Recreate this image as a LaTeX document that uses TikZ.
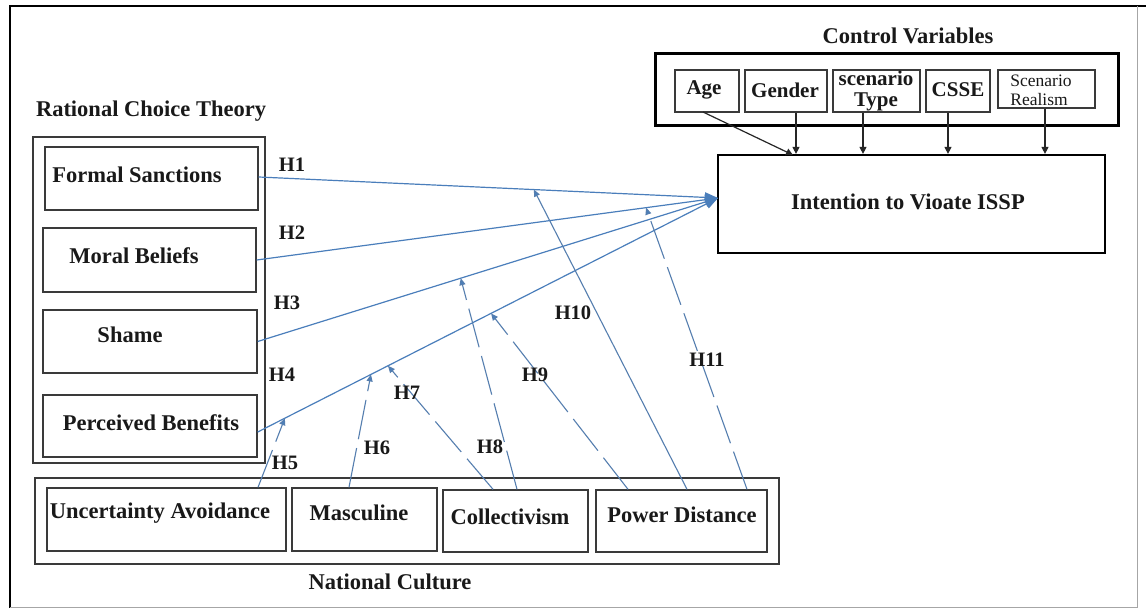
\documentclass[tikz,border=0pt]{standalone}
\usepackage{fontspec}
\setmainfont{Liberation Serif}
\usetikzlibrary{arrows.meta,calc}
\definecolor{linkblue}{HTML}{4A7EBB}
\definecolor{boxgray}{HTML}{3A3A3A}
\begin{document}
\begin{tikzpicture}[x=1pt,y=-1pt,
  box/.style={draw=boxgray,line width=1.4pt,inner sep=0pt},
  heavybox/.style={draw=black,line width=2.2pt,inner sep=0pt},
  txt/.style={font=\fontsize{22.5}{24}\selectfont\bfseries,inner sep=0pt,text=black!90},
  ctxt/.style={font=\fontsize{21}{21}\selectfont\bfseries,inner sep=0pt,align=center,text=black!90},
  hlbl/.style={font=\fontsize{20.5}{22}\selectfont\bfseries,inner sep=0pt,text=black!90},
  main/.style={draw=linkblue,line width=1.2pt,-{Triangle[length=13pt,width=10pt]}},
  moder/.style={draw=linkblue!80!gray,line width=1.1pt,-{Triangle[length=7pt,width=6pt,fill=linkblue]}},
  modash/.style={moder,dash pattern=on 40pt off 9pt},
  ctrl/.style={draw=black!85,line width=1.2pt,-{Triangle[length=7pt,width=7pt]}}
]
\useasboundingbox (0,0) rectangle (1146,609);
\fill[white] (0,0) rectangle (1146,609);

% outer frame
\draw[black,line width=2.6pt] (1146,6) -- (10,6) -- (10,608);
\draw[gray!70,line width=1pt] (10,607) -- (1137,607) -- (1137,6);

% Rational Choice Theory group
\node[txt] (rctT) at (151,111) {Rational Choice Theory};
\node[box,minimum width=232,minimum height=326] (rct) at (149,300) {};
\node[box,minimum width=213,minimum height=63] (fs) at (151.5,178.5) {};
\node[box,minimum width=213,minimum height=64] (mb) at (149.5,260) {};
\node[box,minimum width=214,minimum height=63] (sh) at (150,341.5) {};
\node[box,minimum width=214,minimum height=62] (pb) at (150,426) {};
\node[txt] (fsT) at (137,175) {Formal Sanctions};
\node[txt] (mbT) at (134,256) {Moral Beliefs};
\node[txt] (shT) at (130,335) {Shame};
\node[txt] (pbT) at (151,423) {Perceived Benefits};

% National Culture group
\node[box,minimum width=744,minimum height=86] (nc) at (407,521) {};
\node[box,minimum width=239,minimum height=63] (ua) at (166.5,519.5) {};
\node[box,minimum width=145,minimum height=63] (ma) at (364.5,519.5) {};
\node[box,minimum width=145,minimum height=62] (co) at (515.5,521) {};
\node[box,minimum width=171,minimum height=62] (pd) at (681.5,521) {};
\node[txt] (uaT) at (160,513) {Uncertainty Avoidance};
\node[txt] (maT) at (359,513) {Masculine};
\node[txt] (coT) at (510,517) {Collectivism};
\node[txt] (pdT) at (682,515) {Power Distance};
\node[txt] (ncT) at (390,582) {National Culture};

% Control variables group
\node[txt] (cvT) at (908,36) {Control Variables};
\node[draw=black,line width=3pt,inner sep=0pt,minimum width=463,minimum height=72] (cv) at (886.5,90) {};
\node[box,minimum width=64,minimum height=42] (age) at (707,91) {};
\node[box,minimum width=82,minimum height=42] (gen) at (786,91) {};
\node[box,minimum width=87,minimum height=42] (sty) at (876.5,91) {};
\node[box,minimum width=64,minimum height=42] (csse) at (958,91) {};
\node[box,minimum width=97,minimum height=38] (sre) at (1046.5,89) {};
\node[ctxt] (ageT) at (704,90) {Age};
\node[ctxt] (genT) at (785,90) {Gender};
\node[ctxt] (styT) at (876,91) {scenario\\Type};
\node[ctxt] (csseT) at (958,90) {CSSE};
\node[font=\fontsize{17.5}{19}\selectfont,inner sep=0pt,align=left,text=black!90] (sreT) at (1041,90) {Scenario\\Realism};

% dependent variable
\node[heavybox,minimum width=387,minimum height=98] (iv) at (911.5,204) {};
\node[txt] (ivT) at (908,202) {Intention to Vioate ISSP};

% control arrows
\draw[ctrl] (703,112) -- (793,155);
\draw[ctrl] (796,0 |- gen.south) -- (796,0 |- iv.north);
\draw[ctrl] (863,0 |- sty.south) -- (863,0 |- iv.north);
\draw[ctrl] (948,0 |- csse.south) -- (948,0 |- iv.north);
\draw[ctrl] (1045,0 |- sre.south) -- (1045,0 |- iv.north);

% direct paths
\coordinate (tgt) at (718,198);
\coordinate (fsE) at ($(fs.east)+(0,-1.5)$);
\coordinate (pbE) at ($(pb.east)+(0,6)$);
\draw[main] (fsE) -- (tgt);
\draw[main] (mb.east) -- (tgt);
\draw[main] (sh.east) -- (tgt);
\draw[main] (pbE) -- (tgt);

% moderation targets on the paths
\coordinate (h10e) at ($(fsE)!0.599!(tgt)$);
\coordinate (h11e) at ($(mb.east)!0.844!(tgt)$);
\coordinate (h8e)  at ($(sh.east)!0.441!(tgt)$);
\coordinate (h9e)  at ($(pbE)!0.507!(tgt)$);
\coordinate (h7e)  at ($(pbE)!0.283!(tgt)$);
\coordinate (h6e)  at ($(pbE)!0.246!(tgt)$);
\coordinate (h5e)  at ($(pbE)!0.059!(tgt)$);

% moderation paths
\draw[modash] (258,0 |- ua.north) -- (h5e);
\draw[modash] (349,0 |- ma.north) -- (h6e);
\draw[modash] (493,0 |- co.north) -- (h7e);
\draw[modash] (517,0 |- co.north) -- (h8e);
\draw[modash] (628,0 |- pd.north) -- (h9e);
\draw[moder]  (687,0 |- pd.north) -- (h10e);
\draw[modash] (747,0 |- pd.north) -- (h11e);

% hypothesis labels
\node[hlbl] (H1) at (292,165) {H1};
\node[hlbl] (H2) at (292,233) {H2};
\node[hlbl] (H3) at (287,303) {H3};
\node[hlbl] (H4) at (282,375) {H4};
\node[hlbl] (H5) at (285,463) {H5};
\node[hlbl] (H6) at (377,448) {H6};
\node[hlbl] (H7) at (407,393) {H7};
\node[hlbl] (H8) at (490,447) {H8};
\node[hlbl] (H9) at (535,375) {H9};
\node[hlbl] (H10) at (573,313) {H10};
\node[hlbl] (H11) at (707,360) {H11};
\end{tikzpicture}
\end{document}
